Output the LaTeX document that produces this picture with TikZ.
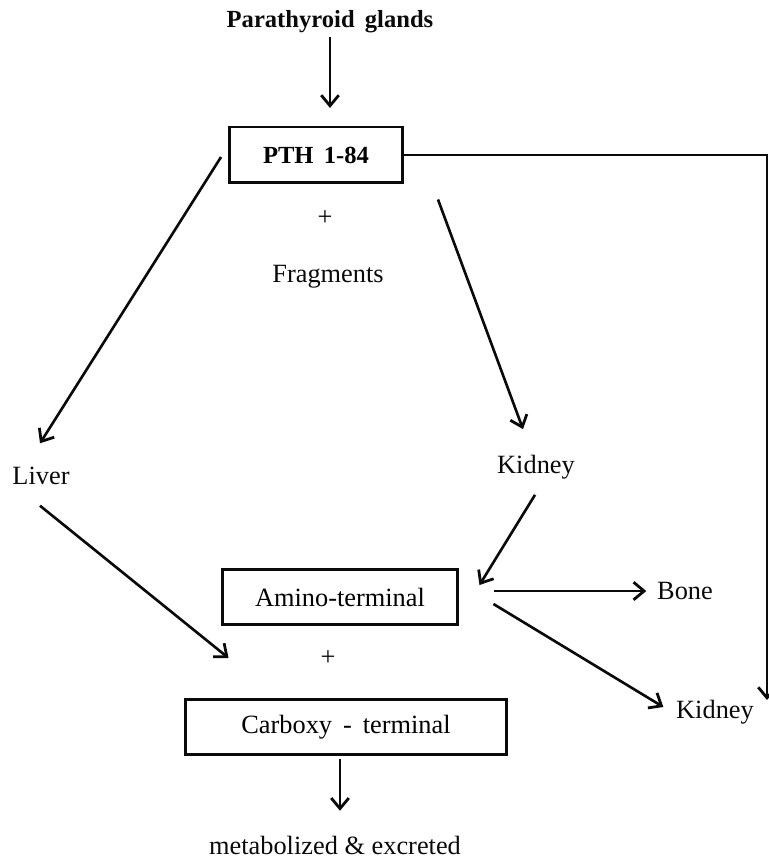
\documentclass[tikz,border=0pt]{standalone}
\usepackage{fontspec}
\setmainfont{Liberation Serif}
\usepackage{tikz}
\usetikzlibrary{arrows.meta, positioning, calc}
\definecolor{inkdark}{RGB}{10,10,10}
\tikzset{
  txt/.style={font=\fontsize{15}{18}\selectfont, inner sep=2pt, text=inkdark},
  boldtxt/.style={font=\fontsize{14}{17}\selectfont\bfseries, inner sep=2pt, text=inkdark},
  box/.style={rectangle, draw=inkdark, line width=1.7pt, inner sep=0pt,
    font=\fontsize{15}{18}\selectfont, minimum height=1.1cm},
  arrow/.style={-{Straight Barb[length=6pt,width=10pt,line width=1.6pt]}, line width=1.5pt, color=inkdark},
  line/.style={line width=1.4pt, color=inkdark}
}

\begin{document}
\begin{tikzpicture}[x=0.02cm, y=-0.02cm]
  \useasboundingbox (0,0) rectangle (768,861);
  % source and intact hormone
  \node[boldtxt] (glands) at (330,22) {Parathyroid\, glands};
  \node[box, minimum width=3.46cm, minimum height=1.12cm, font=\fontsize{14}{17}\selectfont\bfseries] (pth) at (316,155) {PTH\, 1-84};
  \node[txt] (plusa) at (325,218) {+};
  \node[txt] (frag) at (328,277) {Fragments};
  % organs
  \node[txt] (liver) at (41,476) {Liver};
  \node[txt] (kidup) at (536,467) {Kidney};
  % fragments
  \node[box, minimum width=4.72cm] (amino) at (340,597) {Amino-terminal};
  \node[txt] (plusb) at (328,658) {+};
  \node[box, minimum width=6.44cm] (carb) at (346,727) {Carboxy\, -\, terminal};
  \node[txt] (bone) at (685,591) {Bone};
  \node[txt] (kidlow) at (715,712) {Kidney};
  \node[txt] (met) at (335,845) {metabolized \& excreted};
  \coordinate (edge) at (767,700);

  \draw[arrow, shorten >=10pt] (glands.south) -- (glands.south |- pth.north);
  \draw[arrow] ([shift={(-7,2)}]pth.west) -- ([shift={(-1,-20)}]liver.north);
  \draw[arrow] ([shift={(34,15)}]pth.south east) -- ([shift={(-13,-22)}]kidup.north);
  \draw[line, -{Straight Barb[length=6pt,width=10pt,line width=1.6pt]}] (pth.east) -| (edge);
  \draw[arrow] ([shift={(-1,17)}]liver.south) -- ([shift={(8,32)}]amino.south west);
  \draw[arrow] ([shift={(-1,12)}]kidup.south) -- ([shift={(20,17)}]amino.north east);
  \draw[arrow] ([shift={(35,-6)}]amino.east) -- ([xshift=-4pt]bone.west);
  \draw[arrow] ([shift={(34,7)}]amino.east) -- ([shift={(-9,-5)}]kidlow.west);
  \draw[arrow, shorten >=12pt] ([shift={(-6,3)}]carb.south) -- ([shift={(-6,0)}]carb.south |- met.north);
\end{tikzpicture}
\end{document}
